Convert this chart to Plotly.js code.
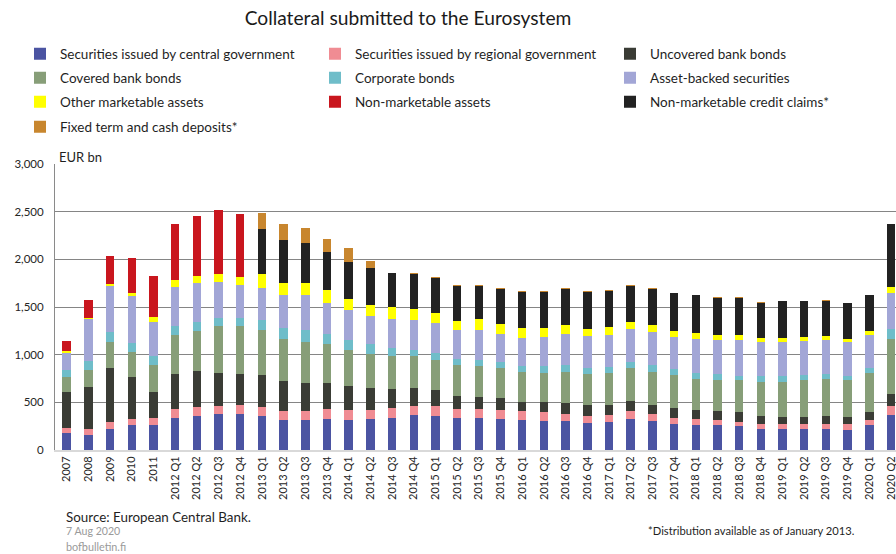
<!DOCTYPE html>
<html>
<head>
<meta charset="utf-8">
<script src="https://cdn.plot.ly/plotly-3.0.1.min.js"></script>
<style>html,body{margin:0;padding:0;background:#fff;}#chart{width:896px;height:554px;}</style>
</head>
<body>
<div id="chart"></div>
<script>
const categories = ["2007","2008","2009","2010","2011",
  "2012 Q1","2012 Q2","2012 Q3","2012 Q4",
  "2013 Q1","2013 Q2","2013 Q3","2013 Q4",
  "2014 Q1","2014 Q2","2014 Q3","2014 Q4",
  "2015 Q1","2015 Q2","2015 Q3","2015 Q4",
  "2016 Q1","2016 Q2","2016 Q3","2016 Q4",
  "2017 Q1","2017 Q2","2017 Q3","2017 Q4",
  "2018 Q1","2018 Q2","2018 Q3","2018 Q4",
  "2019 Q1","2019 Q2","2019 Q3","2019 Q4",
  "2020 Q1","2020 Q2"];

const centralGov   = [178,157,220,259,259,340,360,374,374,360,315,312,326,312,326,340,371,361,340,340,326,312,301,301,284,294,326,301,270,259,259,248,224,224,224,224,214,259,371];
const regionalGov  = [56,63,74,70,81,90,95,91,98,95,91,94,105,105,91,101,95,105,91,91,94,94,95,81,77,77,80,74,70,67,60,46,53,46,53,53,56,60,88];
const uncoveredBB  = [371,441,563,437,265,371,378,347,329,336,315,301,276,255,231,196,185,161,136,126,126,102,112,112,115,105,105,101,105,94,87,102,84,80,73,84,80,77,133];
const coveredBB    = [161,175,280,266,284,403,416,486,497,472,444,427,403,382,364,347,333,322,326,325,312,311,304,325,326,336,347,347,346,326,329,339,357,368,382,385,385,416,570];
const corporate    = [70,95,102,91,94,101,95,91,91,98,116,123,112,105,98,91,70,70,66,67,70,63,70,74,56,56,70,70,56,66,67,46,59,59,56,56,46,46,105];
const assetBacked  = [182,444,479,497,361,406,413,371,347,343,350,371,325,308,297,297,308,311,301,311,287,298,305,322,336,336,346,346,343,354,357,378,361,361,357,357,357,346,375];
const otherMkt     = [25,14,25,28,49,70,70,88,77,137,126,119,130,119,119,123,119,105,95,109,105,105,98,94,80,84,70,67,63,63,45,49,42,42,38,35,28,46,63];
const nonMktAssets = [105,182,290,364,430,588,623,672,661,0,0,0,0,0,0,0,0,0,0,0,0,0,0,0,0,0,0,0,0,0,0,0,0,0,0,0,0,0,0];
const creditClaims = [0,0,0,0,0,0,0,0,0,472,451,427,402,388,385,357,367,368,367,353,367,371,371,378,382,378,378,381,389,392,392,388,367,378,375,374,371,381,665];
const fixedTerm    = [0,0,0,0,0,0,0,0,0,175,161,150,130,140,74,7,11,14,11,11,14,14,10,14,10,11,11,14,10,10,11,11,3,10,10,3,0,0,0];

const seriesNames = ["Securities issued by central government","Securities issued by regional government","Uncovered bank bonds",
  "Covered bank bonds","Corporate bonds","Asset-backed securities",
  "Other marketable assets","Non-marketable assets","Non-marketable credit claims*",
  "Fixed term and cash deposits*"];
const seriesValues = [centralGov,regionalGov,uncoveredBB,coveredBB,corporate,assetBacked,otherMkt,nonMktAssets,creditClaims,fixedTerm];
const seriesColors = ["#4B54A2","#F08C93","#3A3C35","#879E78","#6FBDC9","#A2A6D6","#FFFF00","#C9161E","#222222","#C8862E"];
const legendIds = ["legend","legend","legend","legend2","legend2","legend2","legend3","legend3","legend3","legend4"];
const legendWidths = [250,250,200,250,250,200,250,250,200,250];

const FONT = "Lato, 'Open Sans', sans-serif";

const traces = seriesNames.map((name,i)=>({
  type:"bar",
  name:name,
  x:categories,
  y:seriesValues[i],
  marker:{color:seriesColors[i], line:{width:0}},
  legend:legendIds[i],
  legendwidth:legendWidths[i],
  hoverinfo:"x+y+name"
}));

function legendRow(yPx){
  return {
    orientation:"h", xref:"container", yref:"container",
    x:20/896, y:1 - yPx/554, xanchor:"left", yanchor:"middle",
    font:{family:FONT, size:13.5, color:"#1f1f1f"},
    bgcolor:"rgba(0,0,0,0)", traceorder:"normal",
    entrywidthmode:"pixels", entrywidth:250
  };
}

const layout = {
  width:896, height:554,
  margin:{l:55, r:0, t:164, b:104.3, pad:0},
  paper_bgcolor:"#ffffff", plot_bgcolor:"#ffffff",
  barmode:"stack", bargap:0.61,
  title:{text:"Collateral submitted to the Eurosystem", xref:"container", yref:"container",
         x:408/896, y:1-18/554, xanchor:"center", yanchor:"middle",
         font:{family:FONT, size:19.2, color:"#1a1a1a"}},
  font:{family:FONT, color:"#262626"},
  showlegend:true,
  legend:legendRow(54),
  legend2:legendRow(78),
  legend3:legendRow(102),
  legend4:legendRow(127),
  xaxis:{type:"category", categoryorder:"array", categoryarray:categories,
         range:[-0.54, 38.23], tickangle:-90, ticks:"",
         tickfont:{family:FONT, size:11, color:"#262626"},
         showline:true, linecolor:"#d9d9d9", linewidth:2, showgrid:false, zeroline:false, fixedrange:true},
  yaxis:{range:[0,3000], dtick:500, tick0:0, tickformat:",d", ticks:"",
         tickfont:{family:FONT, size:11.5, color:"#262626"},
         showgrid:true, gridcolor:"#858585", gridwidth:1,
         showline:true, linecolor:"#8a8a8a", linewidth:1, zeroline:false,
         ticklabelstandoff:8, fixedrange:true},
  annotations:[
    {text:"EUR bn", xref:"paper", yref:"paper", x:(57-55)/841, y:(449.7-157)/285.7,
     xanchor:"left", yanchor:"middle", showarrow:false, font:{family:FONT, size:13, color:"#1f1f1f"}},
    {text:"Source: European Central Bank.", xref:"paper", yref:"paper", x:(64-55)/841, y:(449.7-517)/285.7,
     xanchor:"left", yanchor:"middle", showarrow:false, font:{family:FONT, size:13.4, color:"#1f1f1f"}},
    {text:"7 Aug 2020", xref:"paper", yref:"paper", x:(64-55)/841, y:(449.7-531)/285.7,
     xanchor:"left", yanchor:"middle", showarrow:false, font:{family:FONT, size:10.6, color:"#9a9a9a"}},
    {text:"bofbulletin.fi", xref:"paper", yref:"paper", x:(64-55)/841, y:(449.7-546)/285.7,
     xanchor:"left", yanchor:"middle", showarrow:false, font:{family:FONT, size:10.8, color:"#9a9a9a"}},
    {text:"*Distribution available as of January 2013.", xref:"paper", yref:"paper", x:(646-55)/841, y:(449.7-530)/285.7,
     xanchor:"left", yanchor:"middle", showarrow:false, font:{family:FONT, size:11.2, color:"#1f1f1f"}}
  ]
};

Plotly.newPlot("chart", traces, layout, {displayModeBar:false, staticPlot:true});
</script>
</body>
</html>
